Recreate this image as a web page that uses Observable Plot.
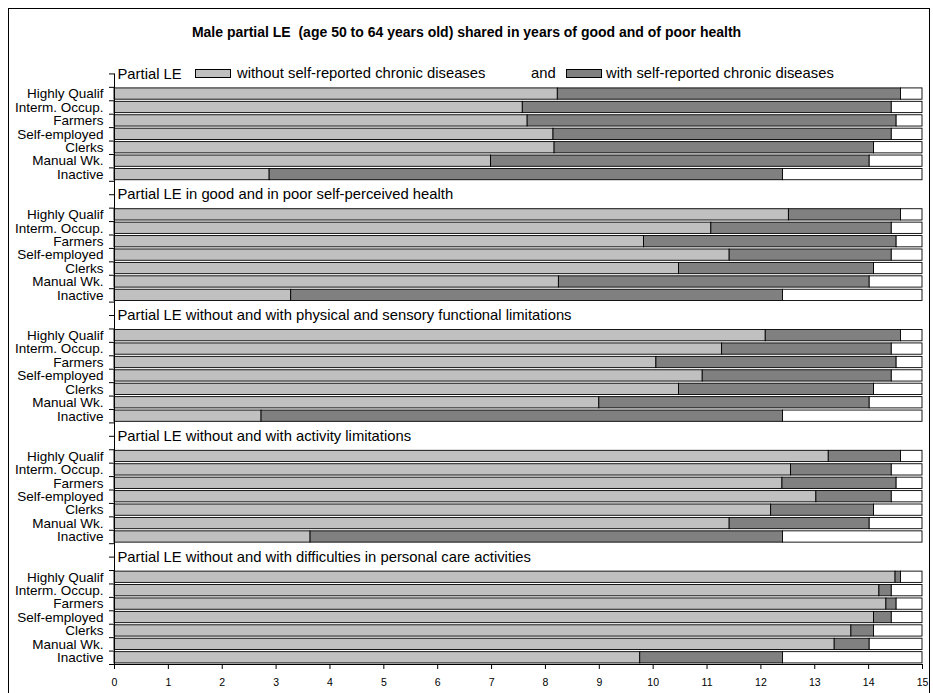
<!DOCTYPE html>
<html><head><meta charset="utf-8">
<script src="https://cdn.jsdelivr.net/npm/d3@7"></script>
<script src="https://cdn.jsdelivr.net/npm/@observablehq/plot@0.6"></script>
<style>
body{margin:0;background:#fff;font-family:"Liberation Sans",Arial,sans-serif;}
#wrap{position:relative;width:933px;height:693px;overflow:hidden;background:#fff}
#frame{position:absolute;left:8px;top:8px;width:922px;height:700px;border:1px solid #000;box-sizing:border-box;pointer-events:none}
#title{position:absolute;left:0;width:933px;top:24px;text-align:center;font-weight:bold;font-size:14px;line-height:17px;white-space:pre}
.leg{position:absolute;top:65px;font-size:14.8px;line-height:16px;white-space:pre;color:#000}
.sw{position:absolute;top:69px;height:9px;border:1px solid #000;box-sizing:border-box}
#chart{position:absolute;left:0;top:0}
#chart svg{font-family:"Liberation Sans",Arial,sans-serif}
</style></head><body>
<div id="wrap">
  <div id="chart"></div>
  <div id="frame"></div>
  <div id="title"></div>
  <div class="sw" style="left:195px;width:36px;background:#C0C0C0"></div>
  <div class="leg" id="leg1" style="left:237px"></div>
  <div class="leg" id="leg2" style="left:531px"></div>
  <div class="sw" style="left:566px;width:36px;background:#808080"></div>
  <div class="leg" id="leg3" style="left:606px"></div>
</div>
<script>
const chartTitle = "Male partial LE  (age 50 to 64 years old) shared in years of good and of poor health";
const legendLabels = ["without self-reported chronic diseases", "and", "with self-reported chronic diseases"];
const categories = ["Highly Qualif","Interm. Occup.","Farmers","Self-employed","Clerks","Manual Wk.","Inactive"];
const groupTitles = [
  "Partial LE",
  "Partial LE in good and in poor self-perceived health",
  "Partial LE without and with physical and sensory functional limitations",
  "Partial LE without and with activity limitations",
  "Partial LE without and with difficulties in personal care activities"
];
const totalLE            = [14.60, 14.43, 14.52, 14.43, 14.10, 14.02, 12.41];
const withoutChronic     = [8.23, 7.58, 7.67, 8.15, 8.17, 6.99, 2.88];
const goodPerceived      = [12.52, 11.08, 9.83, 11.42, 10.48, 8.25, 3.28];
const withoutFunctional  = [12.09, 11.28, 10.06, 10.92, 10.48, 9.00, 2.73];
const withoutActivity    = [13.26, 12.56, 12.40, 13.03, 12.19, 11.42, 3.64];
const withoutPersonal    = [14.50, 14.20, 14.33, 14.10, 13.68, 13.37, 9.76];
const xTickValues = [0,1,2,3,4,5,6,7,8,9,10,11,12,13,14,15];
const axisMax = 15;

document.getElementById("title").textContent = chartTitle;
document.getElementById("leg1").textContent = legendLabels[0];
document.getElementById("leg2").textContent = legendLabels[1];
document.getElementById("leg3").textContent = legendLabels[2];

const goodSeries = [withoutChronic, goodPerceived, withoutFunctional, withoutActivity, withoutPersonal];

// each group: two spacer slots (title sits on the boundary between them) then the categories
const segs = [], labels = [], headers = [];
let r = 0;
goodSeries.forEach((good, g) => {
  const first = r + 2;
  headers.push({y: first - 1, text: groupTitles[g]});
  categories.forEach((c, i) => {
    const row = first + i;
    labels.push({row, text: c});
    segs.push({row, x1: 0, x2: good[i], fill: "#C0C0C0"});
    segs.push({row, x1: good[i], x2: totalLE[i], fill: "#808080"});
    segs.push({row, x1: totalLE[i], x2: axisMax, fill: "#FFFFFF"});
  });
  r = first + categories.length;
});
const nRows = r;
const pad = 0.08;

const chart = Plot.plot({
  width: 933, height: 693,
  marginLeft: 114, marginRight: 11, marginTop: 60, marginBottom: 29,
  x: {domain: [0, axisMax]},
  y: {domain: [0, nRows], reverse: true},
  marks: [
    Plot.rect(segs, {x1: "x1", x2: "x2", y1: d => d.row + pad, y2: d => d.row + 1 - pad,
      fill: "fill", stroke: "#000", strokeWidth: 0.9}),
    Plot.ruleX([0], {y1: 1, y2: nRows, stroke: "#000"}),
    Plot.ruleY([nRows], {x1: 0, x2: axisMax, stroke: "#000"}),
    Plot.axisY({ticks: d3.range(1, nRows + 1), tickSize: 5, tickFormat: () => "", stroke: "#000", label: null}),
    Plot.axisX({ticks: xTickValues, tickSize: 5, tickPadding: 9, fontSize: 10.5, anchor: "bottom", stroke: "#000", color: "#000", label: null}),
    Plot.text(labels, {x: 0, y: d => d.row + 0.5, text: "text", dx: -11, textAnchor: "end", fontSize: 13.5, fill: "#000"}),
    Plot.text(headers, {x: 0, y: "y", text: "text", dx: 3, textAnchor: "start", fontSize: 14.8, fill: "#000"})
  ]
});
document.getElementById("chart").appendChild(chart);
</script>
</body></html>
